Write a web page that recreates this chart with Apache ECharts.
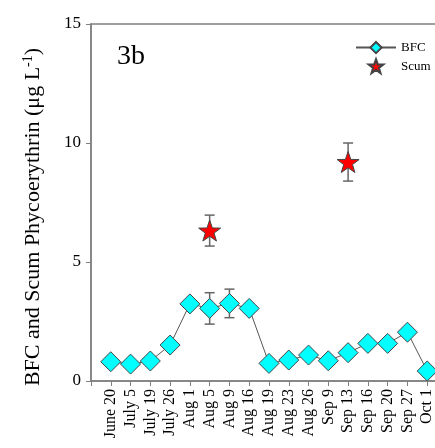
<!DOCTYPE html>
<html>
<head>
<meta charset="utf-8">
<script src="https://cdn.jsdelivr.net/npm/echarts@6/dist/echarts.min.js"></script>
<style>
  html, body { margin: 0; padding: 0; background: #fff; }
  #chart { width: 435px; height: 448px; }
</style>
</head>
<body>
<div id="chart"></div>
<script>
// sampling dates
const dates = ['June 20', 'July 5', 'July 19', 'July 26', 'Aug 1', 'Aug 5', 'Aug 9', 'Aug 16',
  'Aug 19', 'Aug 23', 'Aug 26', 'Sep 9', 'Sep 13', 'Sep 16', 'Sep 20', 'Sep 27', 'Oct 1']
const bfcValues = [0.81, 0.71, 0.84, 1.51, 3.24, 3.05, 3.26, 3.05,
  0.74, 0.88, 1.09, 0.85, 1.19, 1.58, 1.58, 2.05, 0.42]
const bfcErr = [0, 0, 0, 0, 0, 0.66, 0.6, 0.2,
  0, 0, 0, 0, 0, 0, 0, 0, 0]
// scum only sampled on two dates
const scumDates = ['Aug 5', 'Sep 13']
const scumValues = [6.32, 9.2]
const scumErr = [0.65, 0.8]
const yTicks = [0, 5, 10, 15]

const starPath = 'path://M50,0 L61.8,33.8 L97.6,34.5 L69,56.2 L79.4,90.5 L50,70 L20.6,90.5 L31,56.2 L2.4,34.5 L38.2,33.8 Z'
const serif = '"Liberation Serif", "DejaVu Serif", serif'

const bfcData = bfcValues.map((v, i) => [i, v])
const scumData = scumValues.map((v, i) => [dates.indexOf(scumDates[i]), v])
const errData = []
bfcValues.forEach((v, i) => { if (bfcErr[i] > 0) errData.push([i, v - bfcErr[i], v + bfcErr[i]]) })
scumValues.forEach((v, i) => errData.push([dates.indexOf(scumDates[i]), v - scumErr[i], v + scumErr[i]]))

const chart = echarts.init(document.getElementById('chart'))
chart.setOption({
  animation: false,
  title: {
    text: '3b',
    left: 112,
    top: 38,
    textStyle: { fontFamily: serif, fontSize: 28, fontWeight: 'normal', color: '#000' }
  },
  legend: {
    orient: 'vertical',
    left: 350,
    top: 36,
    itemWidth: 40,
    itemHeight: 14,
    itemGap: 4,
    textStyle: { fontFamily: serif, fontSize: 13, color: '#000' },
    data: ['BFC', 'Scum']
  },
  grid: {
    left: 91,
    top: 24,
    bottom: 67,
    right: -10,
    outerBoundsMode: 'none',
    containLabel: false,
    show: true,
    borderColor: '#808080',
    borderWidth: 1.5
  },
  xAxis: {
    type: 'value',
    min: -1,
    max: 16.9,
    interval: 1,
    splitLine: { show: false },
    axisLine: { lineStyle: { color: '#808080', width: 1.5 } },
    axisTick: { length: 5, lineStyle: { color: '#808080' } },
    axisLabel: {
      rotate: 90,
      margin: 8,
      fontFamily: serif,
      fontSize: 16,
      color: '#000',
      showMinLabel: true,
      showMaxLabel: true,
      formatter: v => (Number.isInteger(v) && v >= 0 && v < dates.length) ? dates[v] : ''
    }
  },
  yAxis: {
    type: 'value',
    min: yTicks[0],
    max: yTicks[yTicks.length - 1],
    interval: 5,
    splitLine: { show: false },
    axisLine: { show: true, onZero: false, lineStyle: { color: '#808080', width: 1.5 } },
    axisTick: { show: true, length: 5, lineStyle: { color: '#808080' } },
    axisLabel: { margin: 10, fontFamily: serif, fontSize: 17, color: '#000' }
  },
  graphic: [{
    type: 'text',
    x: 33,
    y: 217,
    rotation: Math.PI / 2,
    style: {
      text: 'BFC and Scum Phycoerythrin (μg L{sup|-1})',
      font: '22px ' + serif,
      fill: '#000',
      align: 'center',
      verticalAlign: 'middle',
      rich: {
        sup: { fontSize: 14, fontFamily: serif, fill: '#000', padding: [0, 0, 10, 0] }
      }
    }
  }],
  series: [
    {
      type: 'custom',
      name: 'err',
      z: 1,
      renderItem: (params, api) => {
        const x = api.value(0)
        const lo = api.coord([x, api.value(1)])
        const hi = api.coord([x, api.value(2)])
        const w = 5
        const style = { stroke: '#666', lineWidth: 1.5 }
        return {
          type: 'group',
          children: [
            { type: 'line', shape: { x1: lo[0], y1: lo[1], x2: hi[0], y2: hi[1] }, style },
            { type: 'line', shape: { x1: lo[0] - w, y1: lo[1], x2: lo[0] + w, y2: lo[1] }, style },
            { type: 'line', shape: { x1: hi[0] - w, y1: hi[1], x2: hi[0] + w, y2: hi[1] }, style }
          ]
        }
      },
      data: errData
    },
    {
      type: 'line',
      name: 'BFC',
      z: 3,
      data: bfcData,
      symbol: 'diamond',
      symbolSize: 20,
      lineStyle: { color: '#555', width: 1 },
      itemStyle: { color: '#00FFFF', borderColor: '#444', borderWidth: 1 }
    },
    {
      type: 'scatter',
      name: 'Scum',
      z: 4,
      data: scumData,
      symbol: starPath,
      symbolKeepAspect: true,
      symbolSize: 22,
      itemStyle: { color: '#FF0000', borderColor: '#444', borderWidth: 1, opacity: 1 }
    }
  ]
})
</script>
</body>
</html>
